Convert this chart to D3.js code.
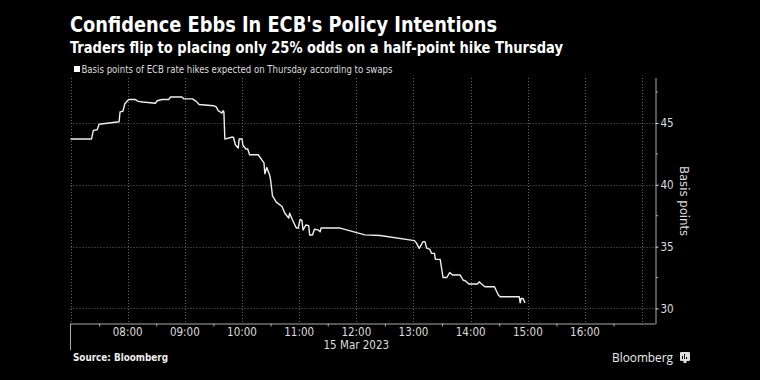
<!DOCTYPE html>
<html><head><meta charset="utf-8">
<script src="https://cdn.jsdelivr.net/npm/d3@7"></script>
<style>
html,body{margin:0;padding:0;background:#000;}
svg{display:block;}
</style></head>
<body>
<svg id="chart" width="760" height="380"></svg>
<script>
// ---- data ----
const times = ["07:00","07:22","07:24","07:28","07:30","07:51","07:52","07:55","07:57","08:01","08:08","08:11","08:16","08:29","08:31","08:36","08:43","08:45","08:57","08:59","09:08","09:12","09:15","09:30","09:33","09:35","09:39","09:40","09:41","09:42","09:49","09:51","09:53","09:56","09:57","10:00","10:01","10:04","10:06","10:08","10:17","10:21","10:23","10:24","10:26","10:29","10:30","10:32","10:36","10:42","10:45","10:49","10:50","10:53","10:57","10:59","11:01","11:03","11:04","11:07","11:10","11:11","11:14","11:16","11:20","11:22","11:23","11:43","12:09","12:25","13:01","13:03","13:06","13:10","13:12","13:14","13:17","13:19","13:22","13:23","13:28","13:31","13:35","13:38","13:41","13:49","13:52","13:55","13:58","14:07","14:09","14:11","14:15","14:25","14:29","14:31","14:51","14:52","14:53","14:55","14:57"];
const values = [43.7,43.7,44.4,44.45,44.9,45.1,45.9,45.95,46.55,46.9,46.9,46.75,46.7,46.6,46.8,46.9,46.9,47.1,47.1,46.95,46.95,46.75,46.5,46.4,46.3,46.0,45.8,46.0,45.9,43.7,43.85,43.85,43.24,42.97,43.7,43.7,43.2,42.9,42.9,42.43,42.43,42.0,41.8,40.9,41.4,40.8,40.4,39.1,38.6,38.24,37.7,37.3,37.7,37.15,36.5,36.5,37.2,37.1,36.34,36.75,36.7,35.94,35.94,36.4,36.35,36.2,36.5,36.5,35.95,35.9,35.48,35.3,34.86,35.4,35.4,34.86,34.8,34.45,34.45,33.97,33.97,32.5,32.5,32.9,32.7,32.7,32.3,32.2,31.97,31.97,32.15,32.0,31.75,31.75,31.08,30.94,30.94,30.45,30.8,30.8,30.45];
const xTickLabels = ["08:00","09:00","10:00","11:00","12:00","13:00","14:00","15:00","16:00"];
const gridHours = ["07:00","08:00","09:00","10:00","11:00","12:00","13:00","14:00","15:00","16:00","17:00"];
const halfHours = ["07:30","08:30","09:30","10:30","11:30","12:30","13:30","14:30","15:30","16:30"];
const yTicks = [30,35,40,45];
const yMinorTicks = [32.5,37.5,42.5,47.5];
const dayLabel = "15 Mar 2023";
const dayDate = "2023-03-15";
const domainStart = "07:00";
const domainEnd = "17:14";
const yDomain = [28.78, 48.64];
const title = "Confidence Ebbs In ECB's Policy Intentions";
const subtitle = "Traders flip to placing only 25% odds on a half-point hike Thursday";
const legendText = "Basis points of ECB rate hikes expected on Thursday according to swaps";
const yAxisTitle = "Basis points";
const sourceText = "Source: Bloomberg";
const brandText = "Bloomberg";

// ---- setup ----
const parse = d3.timeParse("%Y-%m-%d %H:%M");
const T = s => parse(dayDate + " " + s);
const data = times.map((t,i)=>({t:T(t), v:values[i]}));

const svg = d3.select("#chart");
const mLeft = 70.5, mRight = 655.5, mTop = 78, mBottom = 323.5;

const x = d3.scaleTime().domain([T(domainStart), T(domainEnd)]).range([mLeft, mRight]);
const y = d3.scaleLinear().domain(yDomain).range([mBottom, mTop]);

svg.append("rect").attr("width",760).attr("height",380).attr("fill","#000");

const labelFont = "'DejaVu Sans Condensed','DejaVu Sans',sans-serif";
const titleFont = "'DejaVu Sans Condensed','DejaVu Sans',sans-serif";

function fit(sel, w){
  const n = sel.node();
  const len = n.getComputedTextLength();
  if (len > 0) sel.attr("textLength", w).attr("lengthAdjust","spacingAndGlyphs");
  return sel;
}

// titles
fit(svg.append("text").attr("x",70).attr("y",32).attr("fill","#fff")
  .attr("font-family",titleFont).attr("font-weight","bold").attr("font-size",21)
  .text(title), 427);
fit(svg.append("text").attr("x",70).attr("y",53).attr("fill","#fff")
  .attr("font-family",titleFont).attr("font-weight","bold").attr("font-size",15.5)
  .text(subtitle), 493);

// legend
svg.append("rect").attr("x",74).attr("y",66).attr("width",6).attr("height",6).attr("fill","#fff");
fit(svg.append("text").attr("x",81.5).attr("y",73).attr("fill","#ddd")
  .attr("font-family",labelFont).attr("font-size",10)
  .text(legendText), 311);

// grid
const g = svg.append("g");
g.selectAll(".vg").data(gridHours).join("line")
  .attr("x1",d=>Math.round(x(T(d)))+0.5).attr("x2",d=>Math.round(x(T(d)))+0.5)
  .attr("y1",mTop).attr("y2",mBottom)
  .attr("stroke","#666").attr("stroke-width",1).attr("stroke-dasharray","1,2");
g.selectAll(".hg").data(yTicks).join("line")
  .attr("x1",mLeft).attr("x2",mRight)
  .attr("y1",d=>Math.round(y(d))+0.5).attr("y2",d=>Math.round(y(d))+0.5)
  .attr("stroke","#666").attr("stroke-width",1).attr("stroke-dasharray","1,2");

// x axis
const xAxis = d3.axisBottom(x).tickValues(halfHours.map(T)).tickSize(3).tickFormat("");
const gx = svg.append("g").attr("transform",`translate(0,${mBottom})`).call(xAxis);
gx.select(".domain").attr("stroke","#aaa").attr("d",`M${mLeft},0.5H${mRight}`);
gx.selectAll(".tick line").attr("stroke","#aaa");
svg.append("g").selectAll("text").data(xTickLabels).join("text")
  .attr("x",d=>x(T(d))).attr("y",336).attr("text-anchor","middle")
  .attr("fill","#ddd").attr("font-family",labelFont).attr("font-size",11.5)
  .text(d=>d);
svg.append("line").attr("x1",mLeft).attr("x2",mLeft).attr("y1",mBottom).attr("y2",350)
  .attr("stroke","#aaa");
svg.append("text").attr("x",x(T("12:00"))).attr("y",349).attr("text-anchor","middle")
  .attr("fill","#ddd").attr("font-family",labelFont).attr("font-size",11.5).text(dayLabel);

// y axis
const yAxis = d3.axisRight(y).tickValues(yTicks).tickSize(3).tickPadding(2).tickFormat(d3.format("d"));
const gy = svg.append("g").attr("transform",`translate(${mRight},0)`).call(yAxis);
gy.select(".domain").attr("stroke","#aaa").attr("d",`M0.5,${mTop}V${mBottom+0.5}`);
gy.selectAll(".tick line").attr("stroke","#ddd");
gy.selectAll(".tick text").attr("fill","#ddd").attr("font-family",labelFont).attr("font-size",11.5);
gy.append("g").selectAll("line").data(yMinorTicks).join("line")
  .attr("x1",0.5).attr("x2",2.5).attr("y1",d=>y(d)).attr("y2",d=>y(d)).attr("stroke","#aaa");

svg.append("text").attr("transform",`translate(680,201) rotate(90)`)
  .attr("text-anchor","middle").attr("fill","#ddd")
  .attr("font-family",labelFont).attr("font-size",13).text(yAxisTitle);

// line
const line = d3.line().x(d=>x(d.t)).y(d=>y(d.v));
svg.append("path").datum(data).attr("d",line).attr("fill","none")
  .attr("stroke","#eee").attr("stroke-width",1.4).attr("stroke-linejoin","round");

// footer
fit(svg.append("text").attr("x",73).attr("y",361).attr("fill","#eee")
  .attr("font-family",labelFont).attr("font-weight","bold").attr("font-size",10)
  .text(sourceText), 95);
fit(svg.append("text").attr("x",612).attr("y",362).attr("fill","#eee")
  .attr("font-family","'Open Sans',sans-serif").attr("font-size",13)
  .text(brandText), 61);
const logo = svg.append("g").attr("transform","translate(680,352)");
logo.append("rect").attr("width",10).attr("height",9).attr("rx",1).attr("fill","#ddd");
logo.append("rect").attr("x",3.5).attr("y",9).attr("width",3).attr("height",2).attr("fill","#ddd");
[[2,4,1],[4,2,1],[6,5,1]].forEach(([bx,by,bw])=>{
  logo.append("rect").attr("x",bx).attr("y",by).attr("width",bw).attr("height",7-by).attr("fill","#000");
});
</script>
</body></html>
